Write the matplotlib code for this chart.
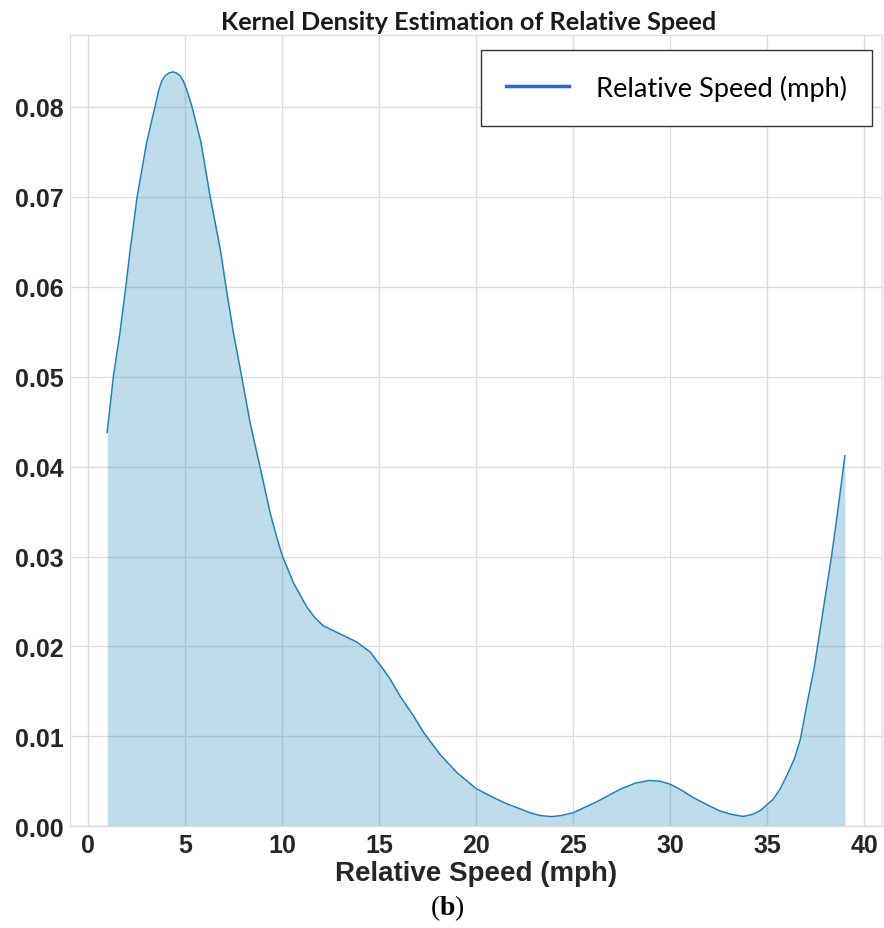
import matplotlib
matplotlib.use("Agg")
import matplotlib.pyplot as plt
from matplotlib.lines import Line2D

# values
speed = [1.0, 1.32, 1.66, 1.96, 2.18, 2.55, 3.04, 3.47, 3.65, 3.81, 4.0, 4.2,
         4.38, 4.55, 4.75, 4.92, 5.1, 5.36, 5.83, 6.30, 6.84, 7.12, 7.50, 7.93,
         8.36, 8.87, 9.39, 9.7, 10.02, 10.59, 11.28, 11.7, 12.13, 12.99, 13.85,
         14.54, 15.14, 15.57, 16.08, 16.77, 17.28, 18.14, 19.0, 20.0, 20.8, 21.58,
         22.2, 22.78, 23.3, 23.89, 24.4, 25.0, 25.6, 26.2, 26.8, 27.41, 28.2,
         28.95, 29.5, 29.98, 30.6, 31.18, 31.9, 32.56, 33.2, 33.76, 34.2, 34.62,
         35.3, 35.65, 36.0, 36.4, 36.71, 37.1, 37.41, 37.59, 37.95, 38.31, 38.67,
         39.0]
density = [0.0438, 0.0500, 0.0549, 0.0600, 0.0640, 0.0701, 0.0761, 0.0801, 0.0818,
           0.0829, 0.0835, 0.0838, 0.0839, 0.0838, 0.0835, 0.0829, 0.0819, 0.0801,
           0.0761, 0.0701, 0.0640, 0.0600, 0.0549, 0.0500, 0.0449, 0.0400, 0.0349,
           0.0324, 0.0301, 0.0271, 0.0244, 0.0232, 0.0223, 0.0214, 0.0205, 0.0194,
           0.0177, 0.0164, 0.0145, 0.0123, 0.0105, 0.0080, 0.0060, 0.0042, 0.0033,
           0.0025, 0.0020, 0.0015, 0.0012, 0.00107, 0.0012, 0.0015, 0.0021, 0.0027,
           0.0034, 0.0041, 0.0048, 0.0051, 0.0050, 0.0047, 0.0040, 0.0032, 0.0024,
           0.0017, 0.0013, 0.0011, 0.0013, 0.0017, 0.0030, 0.0041, 0.0056, 0.0075,
           0.0097, 0.0142, 0.0175, 0.0200, 0.0250, 0.0300, 0.0357, 0.0412]
x_ticks = [0, 5, 10, 15, 20, 25, 30, 35, 40]
y_ticks = [0.00, 0.01, 0.02, 0.03, 0.04, 0.05, 0.06, 0.07, 0.08]

line_color = "#2283b3"
grid_color = "#dddddd"

fig = plt.figure(figsize=(8.84, 9.29), dpi=100)
ax = fig.add_axes([0.0795, 0.1095, 0.918, 0.8517])

ax.fill_between(speed, density, 0, color="#2b8cbe", alpha=0.3, lw=0)
ax.plot(speed, density, color=line_color, lw=1.1, solid_joinstyle="round")

ax.set_xlim(-0.9, 40.9)
ax.set_ylim(0, 0.088)
ax.set_xticks(x_ticks)
ax.set_yticks(y_ticks)
ax.set_yticklabels([f"{v:.2f}" for v in y_ticks])

ax.set_axisbelow(True)
ax.grid(True, color=grid_color, lw=1.0)
for s in ax.spines.values():
    s.set_color(grid_color)
    s.set_linewidth(1.0)
ax.tick_params(length=0, pad=5, labelsize=18, labelcolor="#262626")
for lab in ax.get_xticklabels() + ax.get_yticklabels():
    lab.set_fontfamily("Liberation Sans")
    lab.set_fontweight("bold")

ax.set_xlabel("Relative Speed (mph)", fontsize=20, fontweight="bold",
              family="Liberation Sans", color="#262626", labelpad=2)
ax.set_title("Kernel Density Estimation of Relative Speed", fontsize=18.2,
             fontweight="bold", family="Lato", color="#1a1a1a", x=0.4908, pad=4)

handle = Line2D([], [], color="#2266ee", lw=2.5)
leg = ax.legend([handle], ["Relative Speed (mph)"], loc="upper right",
                bbox_to_anchor=(0.9877, 0.9814), borderaxespad=0,
                prop={"family": "Lato", "size": 19.6}, frameon=True,
                fancybox=False, framealpha=1, edgecolor="#333333",
                borderpad=0.92, handlelength=2.28, handletextpad=1.0)
leg.get_frame().set_linewidth(1.0)

plt.rcParams["mathtext.fontset"] = "custom"
plt.rcParams["mathtext.rm"] = "Liberation Serif"
plt.rcParams["mathtext.bf"] = "Liberation Serif:bold"
fig.text(0.5057, 0.0226, r"($\mathbf{b}$)", ha="center", va="center",
         fontsize=20, family="Liberation Serif")

plt.savefig("out.png", dpi=100)
